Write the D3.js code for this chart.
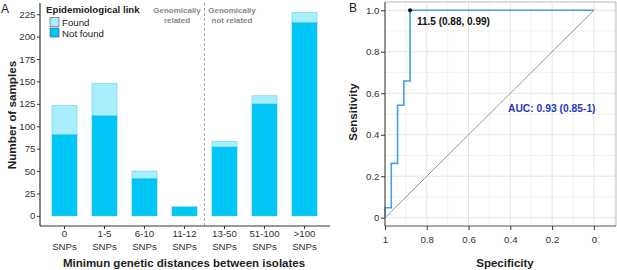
<!DOCTYPE html>
<html>
<head>
<meta charset="utf-8">
<script src="https://cdn.jsdelivr.net/npm/d3@7"></script>
<style>
  body { margin: 0; background: #fff; }
  svg { display: block; font-family: 'Liberation Sans', Arial, sans-serif; }
</style>
</head>
<body>
<svg id="chart" width="617" height="270"></svg>
<script>
// panel A data
const categories = ['0', '1-5', '6-10', '11-12', '13-50', '51-100', '>100']
const notFound = [91, 112, 42, 10, 77, 125, 216]
const found = [32, 36, 8, 0, 6, 9, 11]
const countTicks = [0, 25, 50, 75, 100, 125, 150, 175, 200, 225]

// panel B data (ROC curve steps)
const specificity = [1, 0.97, 0.94, 0.91, 0.88, 0]
const sensitivity = [0, 0.048, 0.262, 0.542, 0.659, 1]
const rocTicks = [0, 0.2, 0.4, 0.6, 0.8, 1]
const rocMinor = [0.1, 0.3, 0.5, 0.7, 0.9]

const svg = d3.select('#chart')
const axisColor = '#333'
const tickText = '#333'
const tickSize = 9.7

/* ---------- Panel A ---------- */
const xA = d3.scaleBand().domain(categories)
  .range([44.5, 324.5]).paddingInner(0.375).paddingOuter(0.1875)
const yA = d3.scaleLinear().domain([-11.3, 237.5]).range([226, 3])

const gA = svg.append('g')

// stacked bars
const rows = categories.map((c, i) => ({ cat: c, nf: notFound[i], f: found[i] }))
gA.selectAll('rect.nf').data(rows).join('rect')
  .attr('class', 'nf')
  .attr('x', d => xA(d.cat))
  .attr('width', xA.bandwidth())
  .attr('y', d => yA(d.nf))
  .attr('height', d => yA(0) - yA(d.nf))
  .attr('fill', '#00c6f6')
  .attr('stroke', '#1cb6e6')
  .attr('stroke-width', 0.6)

gA.selectAll('rect.f').data(rows.filter(d => d.f > 0)).join('rect')
  .attr('class', 'f')
  .attr('x', d => xA(d.cat))
  .attr('width', xA.bandwidth())
  .attr('y', d => yA(d.nf + d.f))
  .attr('height', d => yA(d.nf) - yA(d.nf + d.f))
  .attr('fill', '#a9eefc')
  .attr('stroke', '#5fd2f0')
  .attr('stroke-width', 0.6)

// dashed separator between related / not related groups
const sepX = (xA('11-12') + xA.bandwidth() + xA('13-50')) / 2
gA.append('line')
  .attr('x1', sepX).attr('x2', sepX)
  .attr('y1', 3).attr('y2', 226)
  .attr('stroke', '#aaa')
  .attr('stroke-dasharray', '3,2')

// axes
const yAxisA = gA.append('g')
  .attr('transform', 'translate(40,0)')
  .call(d3.axisLeft(yA).tickValues(countTicks).tickSize(3).tickPadding(1.5))
yAxisA.select('.domain').attr('d', 'M0,3V226')

const xAxisA = gA.append('g')
  .attr('transform', 'translate(0,226)')
  .call(d3.axisBottom(xA).tickSize(3).tickFormat(''))
xAxisA.select('.domain').attr('d', 'M40,0H330')

xAxisA.selectAll('.tick').append('text')
  .attr('y', 11).attr('text-anchor', 'middle')
  .attr('fill', tickText).attr('font-size', tickSize)
  .selectAll('tspan').data(d => [d, 'SNPs']).join('tspan')
  .attr('x', 0).attr('dy', (d, i) => i === 0 ? 0 : 13)
  .text(d => d)

function styleAxis (g) {
  g.select('.domain').attr('stroke', axisColor).attr('stroke-width', 1.2)
  g.selectAll('.tick line').attr('stroke', axisColor)
  g.selectAll('.tick text').attr('fill', tickText).attr('font-size', tickSize)
}
styleAxis(yAxisA)
styleAxis(xAxisA)

// labels
gA.append('text').text('Number of samples')
  .attr('transform', 'translate(16,115) rotate(-90)')
  .attr('text-anchor', 'middle')
  .attr('font-weight', 'bold').attr('font-size', 11.7).attr('fill', '#222')

gA.append('text').text('Minimun genetic distances between isolates')
  .attr('x', 184).attr('y', 267)
  .attr('text-anchor', 'middle')
  .attr('font-weight', 'bold').attr('font-size', 11.5).attr('fill', '#222')

gA.append('text').text('A')
  .attr('x', 1).attr('y', 13)
  .attr('font-size', 12).attr('fill', '#222')

// legend
const legend = gA.append('g')
legend.append('text').text('Epidemiological link')
  .attr('x', 46).attr('y', 12.5)
  .attr('font-weight', 'bold').attr('font-size', 9.7).attr('fill', '#222')
const legendItems = [
  { label: 'Found', fill: '#a9eefc' },
  { label: 'Not found', fill: '#00c6f6' }
]
legendItems.forEach((item, i) => {
  legend.append('rect')
    .attr('x', 50).attr('y', 17.5 + i * 10.5)
    .attr('width', 9).attr('height', 9)
    .attr('fill', item.fill).attr('stroke', '#555').attr('stroke-width', 0.6)
  legend.append('text').text(item.label)
    .attr('x', 62).attr('y', 26 + i * 10.5)
    .attr('font-size', 9.7).attr('fill', '#222')
})

// group annotations
const groupNotes = [
  { x: 177, lines: ['Genomically', 'related'] },
  { x: 232, lines: ['Genomically', 'not related'] }
]
groupNotes.forEach(n => {
  gA.append('text')
    .attr('text-anchor', 'middle')
    .attr('font-weight', 'bold').attr('font-size', 8).attr('fill', '#888')
    .selectAll('tspan').data(n.lines).join('tspan')
    .attr('x', n.x).attr('y', (d, i) => 12.5 + i * 10)
    .text(d => d)
})

/* ---------- Panel B ---------- */
const xB = d3.scaleLinear().domain([1, -0.106]).range([385, 616])
const yB = d3.scaleLinear().domain([-0.04, 1.04]).range([226, 2])

const gB = svg.append('g')

// grid
const minorX = rocMinor.concat([-0.1])
gB.selectAll('line.gxm').data(minorX).join('line')
  .attr('x1', d => xB(d)).attr('x2', d => xB(d))
  .attr('y1', 2).attr('y2', 226)
  .attr('stroke', '#f2f2f2')
gB.selectAll('line.gym').data(rocMinor).join('line')
  .attr('y1', d => yB(d)).attr('y2', d => yB(d))
  .attr('x1', 385).attr('x2', 616)
  .attr('stroke', '#f2f2f2')
gB.selectAll('line.gx').data(rocTicks).join('line')
  .attr('x1', d => xB(d)).attr('x2', d => xB(d))
  .attr('y1', 2).attr('y2', 226)
  .attr('stroke', '#e6e6e6')
gB.selectAll('line.gy').data(rocTicks).join('line')
  .attr('y1', d => yB(d)).attr('y2', d => yB(d))
  .attr('x1', 385).attr('x2', 616)
  .attr('stroke', '#e6e6e6')

// frame (top & right light)
gB.append('path')
  .attr('d', 'M385,2H616V226')
  .attr('fill', 'none').attr('stroke', '#bbb')

// diagonal reference
gB.append('line')
  .attr('x1', xB(1)).attr('y1', yB(0))
  .attr('x2', xB(0)).attr('y2', yB(1))
  .attr('stroke', '#999').attr('stroke-width', 1)

// ROC curve
const rocPts = specificity.map((s, i) => [s, sensitivity[i]])
gB.append('path')
  .datum(rocPts)
  .attr('d', d3.line().x(d => xB(d[0])).y(d => yB(d[1])).curve(d3.curveStepBefore))
  .attr('fill', 'none')
  .attr('stroke', '#42a0e4')
  .attr('stroke-width', 1.6)

// best threshold
gB.append('circle')
  .attr('cx', xB(0.88)).attr('cy', yB(1))
  .attr('r', 2).attr('fill', '#111')
gB.append('text').text('11.5 (0.88, 0.99)')
  .attr('x', 417).attr('y', 25)
  .attr('font-weight', 'bold').attr('font-size', 10).attr('fill', '#111')

gB.append('text').text('AUC: 0.93 (0.85-1)')
  .attr('x', 508).attr('y', 112)
  .attr('font-weight', 'bold').attr('font-size', 10.3).attr('fill', '#1f36c8')

// axes
const yAxisB = gB.append('g')
  .attr('transform', 'translate(385,0)')
  .call(d3.axisLeft(yB).tickValues(rocTicks).tickSize(4).tickPadding(1.5)
    .tickFormat(d => d === 0 ? '0' : d3.format('.1f')(d)))
yAxisB.select('.domain').attr('d', 'M0,2V226')

const xAxisB = gB.append('g')
  .attr('transform', 'translate(0,226)')
  .call(d3.axisBottom(xB).tickValues(rocTicks).tickSize(4)
    .tickFormat(d => d === 0 || d === 1 ? String(d) : d3.format('.1f')(d)))
xAxisB.select('.domain').attr('d', 'M385,0H616')

styleAxis(yAxisB)
styleAxis(xAxisB)
xAxisB.selectAll('.tick text').attr('y', 10).attr('dy', '0.71em')
yAxisB.select('.domain').attr('stroke', '#555')
xAxisB.select('.domain').attr('stroke', '#555')

gB.append('text').text('Sensitivity')
  .attr('transform', 'translate(357,112) rotate(-90)')
  .attr('text-anchor', 'middle')
  .attr('font-weight', 'bold').attr('font-size', 11.5).attr('fill', '#222')

gB.append('text').text('Specificity')
  .attr('x', 505).attr('y', 267)
  .attr('text-anchor', 'middle')
  .attr('font-weight', 'bold').attr('font-size', 11.5).attr('fill', '#222')

gB.append('text').text('B')
  .attr('x', 349).attr('y', 12)
  .attr('font-size', 12).attr('fill', '#222')
</script>
</body>
</html>
